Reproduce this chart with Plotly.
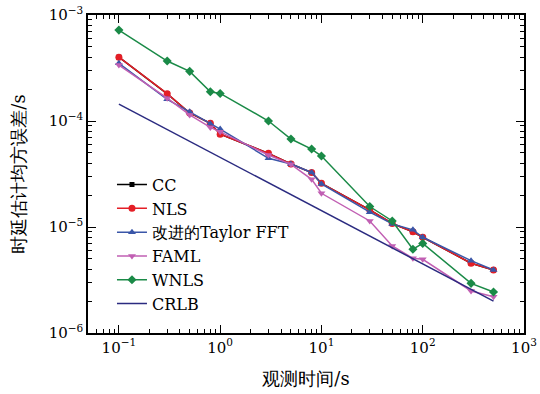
import plotly.graph_objects as go

x_obs = [0.1, 0.3, 0.5, 0.8, 1, 3, 5, 8, 10, 30, 50, 80, 100, 300, 500]

cc = [4.0e-4, 1.8e-4, 1.19e-4, 9.5e-5, 7.5e-5, 4.95e-5, 3.93e-5, 3.26e-5, 2.58e-5,
      1.45e-5, 1.08e-5, 9.0e-6, 8.0e-6, 4.55e-6, 3.93e-6]
nls = [4.0e-4, 1.81e-4, 1.19e-4, 9.5e-5, 7.5e-5, 4.95e-5, 3.93e-5, 3.26e-5, 2.58e-5,
       1.45e-5, 1.08e-5, 9.0e-6, 8.0e-6, 4.55e-6, 3.93e-6]
taylor = [3.5e-4, 1.6e-4, 1.22e-4, 9.4e-5, 8.4e-5, 4.45e-5, 3.93e-5, 3.27e-5, 2.55e-5,
          1.38e-5, 1.07e-5, 9.4e-6, 8.0e-6, 4.81e-6, 3.93e-6]
faml = [3.37e-4, 1.64e-4, 1.14e-4, 8.7e-5, 7.9e-5, 4.78e-5, 3.9e-5, 2.82e-5, 2.08e-5,
        1.14e-5, 6.62e-6, 5.07e-6, 4.96e-6, 2.49e-6, 2.2e-6]
wnls = [7.2e-4, 3.68e-4, 2.94e-4, 1.89e-4, 1.82e-4, 1.0e-4, 6.76e-5, 5.44e-5, 4.67e-5,
        1.56e-5, 1.14e-5, 6.17e-6, 7.0e-6, 2.94e-6, 2.44e-6]
crlb = [1.44e-4, 8.3e-5, 6.4e-5, 5.1e-5, 4.55e-5, 2.63e-5, 2.04e-5, 1.61e-5, 1.44e-5,
        8.3e-6, 6.4e-6, 5.1e-6, 4.55e-6, 2.63e-6, 2.0e-6]

names = ["CC", "NLS", "改进的Taylor FFT", "FAML", "WNLS", "CRLB"]
x_tick_vals = [0.1, 1, 10, 100, 1000]
x_tick_text = ["10<sup>−1</sup>", "10<sup>0</sup>", "10<sup>1</sup>", "10<sup>2</sup>", "10<sup>3</sup>"]
y_tick_vals = [1e-6, 1e-5, 1e-4, 1e-3]
y_tick_text = ["10<sup>−6</sup>", "10<sup>−5</sup>", "10<sup>−4</sup>", "10<sup>−3</sup>"]

FONT = "DejaVu Serif"

fig = go.Figure()
fig.add_trace(go.Scatter(x=x_obs, y=cc, name=names[0], mode="lines+markers",
                         line=dict(color="black", width=1.5),
                         marker=dict(symbol="square", size=5, color="black")))
fig.add_trace(go.Scatter(x=x_obs, y=nls, name=names[1], mode="lines+markers",
                         line=dict(color="#e41e26", width=1.5),
                         marker=dict(symbol="circle", size=7, color="#e41e26")))
fig.add_trace(go.Scatter(x=x_obs, y=taylor, name=names[2], mode="lines+markers",
                         line=dict(color="#3a56a8", width=1.5),
                         marker=dict(symbol="triangle-up", size=7, color="#3a56a8")))
fig.add_trace(go.Scatter(x=x_obs, y=faml, name=names[3], mode="lines+markers",
                         line=dict(color="#c15fb3", width=1.5),
                         marker=dict(symbol="triangle-down", size=7, color="#c15fb3")))
fig.add_trace(go.Scatter(x=x_obs, y=wnls, name=names[4], mode="lines+markers",
                         line=dict(color="#1a8a47", width=1.5),
                         marker=dict(symbol="diamond", size=7, color="#1a8a47")))
fig.add_trace(go.Scatter(x=x_obs, y=crlb, name=names[5], mode="lines",
                         line=dict(color="#2b2b80", width=1.5)))

minor_x = [m * 10 ** k for k in range(-2, 3) for m in range(2, 10)]
minor_y = [m * 10 ** k for k in range(-7, -3) for m in range(2, 10)]

axis_common = dict(showline=True, linecolor="black", linewidth=1.5, mirror="ticks",
                   ticks="inside", ticklen=8, tickwidth=1, tickcolor="black",
                   showgrid=False, zeroline=False, automargin=False,
                   ticklabeloverflow="allow",
                   tickfont=dict(family=FONT, size=15, color="black"),
                   title_font=dict(family=FONT, size=18, color="black"))

fig.update_xaxes(type="log", range=[-1.305, 3.0], tickvals=x_tick_vals, ticktext=x_tick_text,
                 minor=dict(tickvals=minor_x, ticks="inside", ticklen=4, tickcolor="black", showgrid=False),
                 title_text="观测时间/s", title_standoff=17, **axis_common)
fig.update_yaxes(type="log", range=[-6, -3], tickvals=y_tick_vals, ticktext=y_tick_text,
                 minor=dict(tickvals=minor_y, ticks="inside", ticklen=4, tickcolor="black", showgrid=False),
                 title_text="时延估计均方误差/s", title_standoff=18, **axis_common)

fig.update_layout(
    width=540, height=394,
    margin=dict(l=88, r=16, t=15, b=61),
    paper_bgcolor="white", plot_bgcolor="white",
    font=dict(family=FONT, size=16, color="black"),
    legend=dict(x=0.055, y=0.52, xanchor="left", yanchor="top",
                bgcolor="rgba(0,0,0,0)", font=dict(family=FONT, size=16, color="black"),
                tracegroupgap=0, itemwidth=30),
    showlegend=True,
)

fig.write_html("out.html")
